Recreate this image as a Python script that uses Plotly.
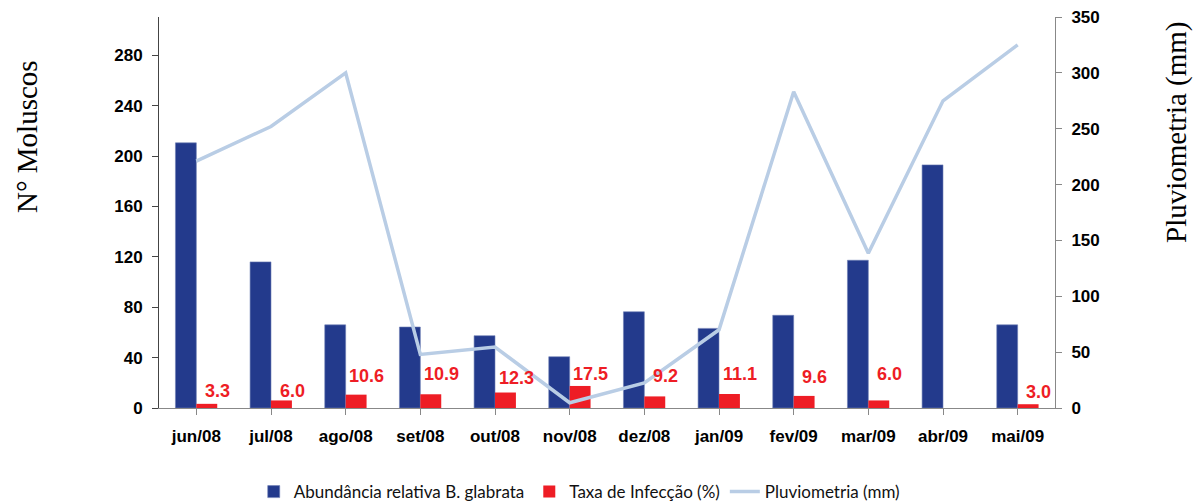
import plotly.graph_objects as go

months = ["jun/08", "jul/08", "ago/08", "set/08", "out/08", "nov/08",
          "dez/08", "jan/09", "fev/09", "mar/09", "abr/09", "mai/09"]
abundancia = [210.5, 116, 66, 64.3, 57.4, 40.7, 76.4, 63.2, 73.6, 117.3, 193, 66]
infeccao = [3.3, 6.0, 10.6, 10.9, 12.3, 17.5, 9.2, 11.1, 9.6, 6.0, None, 3.0]
infeccao_labels = ["3.3", "6.0", "10.6", "10.9", "12.3", "17.5", "9.2", "11.1", "9.6", "6.0", "", "3.0"]
pluviometria = [221, 252, 300, 48, 54.6, 4.7, 22.4, 70, 283, 138.5, 275, 325]

left_ticks = [0, 40, 80, 120, 160, 200, 240, 280]
right_ticks = [0, 50, 100, 150, 200, 250, 300, 350]

# label offsets (pixels above bar top)
label_yshift = [12, 8, 18, 19, 14, 11, 19, 19, 18, 25, 0, 11]

BLUE = "#233A8C"
RED = "#EE1D25"
LINE = "#B9CDE5"
tick_font = dict(family="Liberation Sans, Arial, sans-serif", size=17, color="#000000")

x = list(range(len(months)))

fig = go.Figure()
fig.add_trace(go.Bar(x=x, y=abundancia, name="Abundância relativa B. glabrata",
                     marker=dict(color=BLUE, line=dict(color="#6F7FB5", width=0.6)),
                     yaxis="y"))
fig.add_trace(go.Bar(x=x, y=infeccao, name="Taxa de Infecção (%)",
                     marker=dict(color=RED, line=dict(width=0)), yaxis="y"))
fig.add_trace(go.Scatter(x=x, y=pluviometria, name="Pluviometria (mm)", mode="lines",
                         line=dict(color=LINE, width=3.5), yaxis="y2"))

annotations = []
for i, (v, t) in enumerate(zip(infeccao, infeccao_labels)):
    if v is None or t == "":
        continue
    annotations.append(dict(x=i, y=v, xref="x", yref="y", text="<b>%s</b>" % t,
                            showarrow=False, yanchor="middle", yshift=label_yshift[i] + 1,
                            xshift=21,
                            font=dict(family="Liberation Sans, Arial, sans-serif", size=18, color=RED)))

annotations.append(dict(text="N° Moluscos", xref="paper", yref="paper",
                        x=(27 - 159) / 896, y=(408 - 137) / 391, textangle=-90,
                        showarrow=False, xanchor="center", yanchor="middle",
                        font=dict(family="Liberation Serif, Times New Roman, serif", size=29, color="#000")))
annotations.append(dict(text="Pluviometria (mm)", xref="paper", yref="paper",
                        x=(1176 - 159) / 896, y=(408 - 132) / 391, textangle=-90,
                        showarrow=False, xanchor="center", yanchor="middle",
                        font=dict(family="Liberation Serif, Times New Roman, serif", size=29, color="#000")))

fig.update_layout(
    width=1196, height=502,
    margin=dict(l=159, r=141, t=17, b=94, autoexpand=False),
    paper_bgcolor="white", plot_bgcolor="white",
    barmode="group", bargap=0.44, bargroupgap=0,
    showlegend=True,
    legend=dict(orientation="h", x=0.469, xanchor="center", y=-0.215, yanchor="middle",
                font=dict(family="Lato, Liberation Sans, sans-serif", size=17, color="#111"),
                itemwidth=30, traceorder="normal"),
    xaxis=dict(tickmode="array", tickvals=x, ticktext=["<b>%s</b>" % m for m in months],
               range=[-0.5, len(months) - 0.5], tickson="boundaries",
               ticks="outside", ticklen=6, tickcolor="#888", showline=True,
               linecolor="#888", linewidth=1, showgrid=False, zeroline=False,
               tickfont=tick_font, ticklabelstandoff=7, automargin=False),
    yaxis=dict(range=[0, 310.4], tickvals=left_ticks,
               ticktext=["<b>%d</b>" % t for t in left_ticks],
               ticks="outside", ticklen=6, tickcolor="#444", showline=True,
               linecolor="#444", linewidth=1, showgrid=False, zeroline=False,
               tickfont=tick_font, ticklabelstandoff=6, automargin=False),
    yaxis2=dict(range=[0, 350], tickvals=right_ticks,
                ticktext=["<b>%d</b>" % t for t in right_ticks],
                overlaying="y", side="right",
                ticks="outside", ticklen=6, tickcolor="#888", showline=True,
                linecolor="#888", linewidth=1, showgrid=False, zeroline=False,
                tickfont=tick_font, ticklabelstandoff=6, automargin=False),
    annotations=annotations,
)

fig.write_html("out.html")
